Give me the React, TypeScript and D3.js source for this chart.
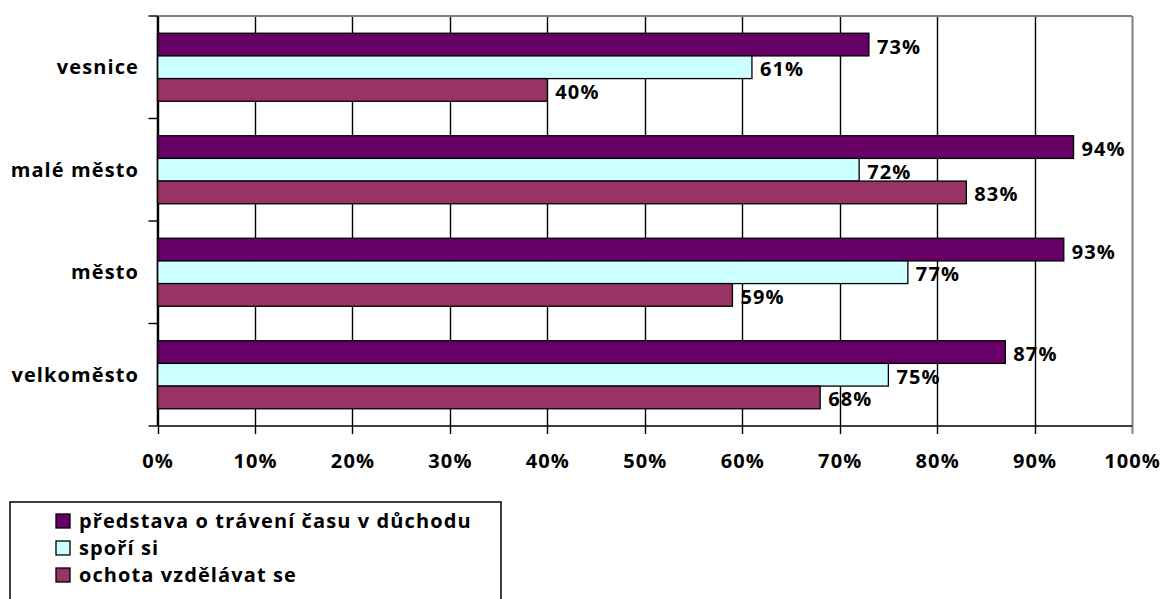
import React from "react";
import * as d3 from "d3";

const categories = ["vesnice", "malé město", "město", "velkoměsto"];
const seriesNames = ["představa o trávení času v důchodu", "spoří si", "ochota vzdělávat se"];
const seriesColors = ["#660066", "#CCFFFF", "#993366"];
const valuesPredstava = [73, 94, 93, 87];
const valuesSpori = [61, 72, 77, 75];
const valuesOchota = [40, 83, 59, 68];
const xTicks = [0, 10, 20, 30, 40, 50, 60, 70, 80, 90, 100];

const seriesValues = [valuesPredstava, valuesSpori, valuesOchota];

const W = 1165;
const H = 599;
const left = 157.5;
const right = 1132;
const top = 16;
const bottom = 426;

const FONT = "'Open Sans', sans-serif";

export default function App() {
  const x = d3.scaleLinear().domain([0, 100]).range([left, right]);
  const y = d3.scaleBand<string>().domain(categories).range([top, bottom]).padding(0);
  const inner = d3
    .scaleBand<number>()
    .domain([0, 1, 2])
    .range([0, y.bandwidth()])
    .paddingInner(0)
    .paddingOuter(0.76);

  const fs = 20;
  const ls = 1.1;

  return (
    <svg width={W} height={H} style={{ position: "absolute", left: 0, top: 0 }}>
      <rect x={0} y={0} width={W} height={H} fill="#fff" />
      {/* gridlines */}
      {xTicks.map((t) => (
        <line
          key={"g" + t}
          x1={Math.round(x(t)) + 0.5}
          x2={Math.round(x(t)) + 0.5}
          y1={top}
          y2={bottom + 8}
          stroke={t === 100 ? "#808080" : "#000"}
          strokeWidth={t === 100 ? 2 : 1.4}
        />
      ))}
      {/* top border */}
      <line x1={left} x2={right} y1={top} y2={top} stroke="#808080" strokeWidth={2} />
      {/* bars */}
      {categories.map((c, ci) =>
        seriesValues.map((vals, si) => (
          <rect
            key={c + si}
            x={x(0)}
            y={(y(c) as number) + (inner(si) as number)}
            width={x(vals[ci]) - x(0)}
            height={inner.bandwidth()}
            fill={seriesColors[si]}
            stroke="#000"
            strokeWidth={1.3}
          />
        ))
      )}
      {/* axes */}
      <line x1={left} x2={right} y1={bottom} y2={bottom} stroke="#000" strokeWidth={1.5} />
      <line x1={left} x2={left} y1={top} y2={bottom} stroke="#000" strokeWidth={1.5} />
      {/* category ticks */}
      {[...categories.map((c) => y(c) as number), bottom].map((v, i) => (
        <line key={"ct" + i} x1={left - 9} x2={left} y1={v} y2={v} stroke="#000" strokeWidth={1.4} />
      ))}
      {/* data labels */}
      {categories.map((c, ci) =>
        seriesValues.map((vals, si) => (
          <text
            key={"l" + c + si}
            x={x(vals[ci]) + 8}
            y={(y(c) as number) + (inner(si) as number) + inner.bandwidth() / 2 + 9}
            fontFamily={FONT}
            fontWeight="bold"
            fontSize={fs}
            letterSpacing={ls}
            fill="#000"
          >
            {vals[ci]}%
          </text>
        ))
      )}
      {/* category labels */}
      {categories.map((c) => (
        <text
          key={"cl" + c}
          x={139}
          y={(y(c) as number) + y.bandwidth() / 2 + 7}
          textAnchor="end"
          fontFamily={FONT}
          fontWeight="bold"
          fontSize={fs}
          letterSpacing={ls}
          fill="#000"
        >
          {c}
        </text>
      ))}
      {/* x tick labels */}
      {xTicks.map((t) => (
        <text
          key={"xl" + t}
          x={x(t) + ls / 2}
          y={468}
          textAnchor="middle"
          fontFamily={FONT}
          fontWeight="bold"
          fontSize={fs}
          letterSpacing={ls}
          fill="#000"
        >
          {t}%
        </text>
      ))}
      {/* legend */}
      <rect x={10} y={502} width={491} height={110} fill="#fff" stroke="#000" strokeWidth={1.5} />
      {seriesNames.map((n, i) => (
        <g key={"lg" + i} transform={`translate(0, ${514 + i * 27})`}>
          <rect x={56} y={0} width={14} height={14} fill={seriesColors[i]} stroke="#000" strokeWidth={1.3} />
          <text x={79} y={14} fontFamily={FONT} fontWeight="bold" fontSize={fs} letterSpacing={ls} fill="#000">
            {n}
          </text>
        </g>
      ))}
    </svg>
  );
}
